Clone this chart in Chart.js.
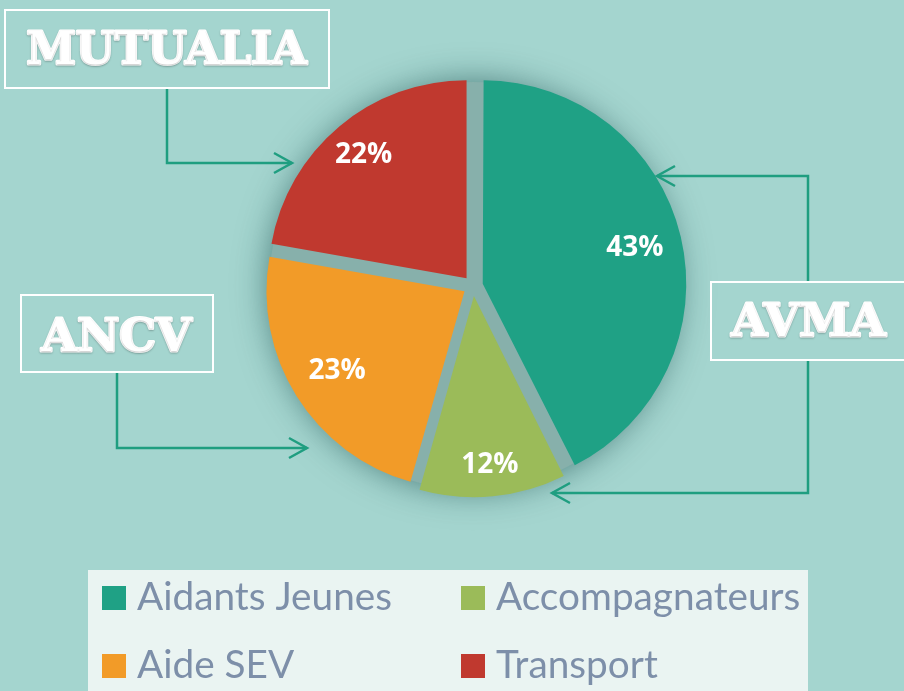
<!DOCTYPE html>
<html lang="fr">
<head>
<meta charset="UTF-8">
<title>Répartition</title>
<script src="https://cdn.jsdelivr.net/npm/chart.js"></script>
<style>
  body { margin: 0; background: #a4d5cf; }
  #wrap { position: relative; width: 904px; height: 691px; }
</style>
</head>
<body>
<div id="wrap"><canvas id="pieChart" width="904" height="691"></canvas></div>
<script>
// data (slice shares, labels show them rounded)
const labels = ["Aidants Jeunes", "Accompagnateurs", "Aide SEV", "Transport"];
const values = [42.6, 11.8, 23.4, 22.2];
const colors = ["#1fa185", "#9bbb59", "#f29b28", "#c0392f"];
const funders = ["MUTUALIA", "ANCV", "AVMA"];

const ARROW = "#1f9e80";
const labelRadius = [0.84, 0.91, 0.81, 0.86];

// boxes with the funder names, and the arrows pointing to the slices
const boxes = [
  { text: funders[0], x: 5, y: 10, w: 324, h: 78, cx: 166.5, base: 64, tw: 280 },
  { text: funders[1], x: 21, y: 295, w: 192, h: 77, cx: 116.5, base: 351, tw: 150 },
  { text: funders[2], x: 711, y: 282, w: 196, h: 78, cx: 808.5, base: 336, tw: 154 }
];
const arrows = [
  [[167, 88], [167, 163], [292, 163]],
  [[117, 373], [117, 448], [307, 448]],
  [[808, 282], [808, 176], [657, 176]],
  [[808, 360], [808, 493], [552, 493]]
];

const decoPlugin = {
  id: "deco",
  beforeDatasetsDraw(chart) {
    const arc = chart.getDatasetMeta(0).data[0];
    const ctx = chart.ctx;
    ctx.save();
    ctx.shadowColor = "rgba(25,75,75,0.65)";
    ctx.shadowBlur = 34;
    ctx.fillStyle = "#87b0ab";
    ctx.beginPath();
    ctx.arc(arc.x, arc.y, arc.outerRadius + 6, 0, Math.PI * 2);
    ctx.fill();
    ctx.restore();
  },
  afterDatasetsDraw(chart) {
    const ctx = chart.ctx;
    const meta = chart.getDatasetMeta(0);
    ctx.save();
    ctx.fillStyle = "#fff";
    ctx.font = "bold 28px 'Open Sans'";
    ctx.textAlign = "center";
    ctx.textBaseline = "middle";
    meta.data.forEach((a, i) => {
      const mid = (a.startAngle + a.endAngle) / 2;
      const r = a.outerRadius * labelRadius[i];
      ctx.fillText(Math.round(values[i]) + "%", a.x + Math.cos(mid) * r, a.y + Math.sin(mid) * r);
    });
    ctx.restore();
  },
  afterDraw(chart) {
    const ctx = chart.ctx;
    ctx.save();

    // arrows
    ctx.strokeStyle = ARROW;
    ctx.lineWidth = 2.5;
    arrows.forEach(pts => {
      ctx.beginPath();
      ctx.moveTo(pts[0][0], pts[0][1]);
      pts.slice(1).forEach(p => ctx.lineTo(p[0], p[1]));
      ctx.stroke();
      const [a, b] = pts.slice(-2);
      const dir = Math.sign(b[0] - a[0]);
      ctx.beginPath();
      ctx.moveTo(b[0] - dir * 18, b[1] - 10);
      ctx.lineTo(b[0], b[1]);
      ctx.lineTo(b[0] - dir * 18, b[1] + 10);
      ctx.stroke();
    });

    // funder boxes
    boxes.forEach(b => {
      ctx.strokeStyle = "#fff";
      ctx.lineWidth = 2;
      ctx.strokeRect(b.x, b.y, b.w, b.h);
      ctx.font = "bold 45px 'DejaVu Serif'";
      const sx = b.tw / ctx.measureText(b.text).width;
      ctx.save();
      ctx.translate(b.cx, b.base);
      ctx.scale(sx, 1);
      ctx.textAlign = "center";
      ctx.textBaseline = "alphabetic";
      ctx.shadowColor = "rgba(0,0,0,0.22)";
      ctx.shadowBlur = 2;
      ctx.shadowOffsetY = 1;
      ctx.fillStyle = "#fff";
      ctx.lineJoin = "round";
      ctx.lineWidth = 3;
      ctx.strokeText(b.text, 0, 0);
      ctx.fillText(b.text, 0, 0);
      ctx.restore();
    });

    // legend
    ctx.fillStyle = "#eaf4f2";
    ctx.fillRect(88, 570, 720, 121);
    ctx.font = "38px Lato";
    const squeeze = 255 / ctx.measureText(labels[0]).width;
    labels.forEach((lab, i) => {
      const x = i % 2 === 0 ? 102 : 461;
      const y = i < 2 ? 586 : 654;
      ctx.fillStyle = colors[i];
      ctx.fillRect(x, y, 24, 24);
      ctx.save();
      ctx.translate(x + 35, y + 24);
      ctx.scale(squeeze, 1);
      ctx.fillStyle = "#7d8fa9";
      ctx.textBaseline = "alphabetic";
      ctx.fillText(lab, 0, 0);
      ctx.restore();
    });
    ctx.restore();
  }
};

new Chart(document.getElementById("pieChart"), {
  type: "pie",
  data: {
    labels: labels,
    datasets: [{
      data: values,
      backgroundColor: colors,
      borderWidth: 0,
      offset: 40,
      hoverOffset: 40
    }]
  },
  options: {
    responsive: false,
    animation: false,
    radius: 198,
    layout: { padding: { left: 42, right: 0, top: 0, bottom: 119 } },
    plugins: {
      legend: { display: false },
      tooltip: { enabled: false }
    },
    events: []
  },
  plugins: [decoPlugin]
});
</script>
</body>
</html>
